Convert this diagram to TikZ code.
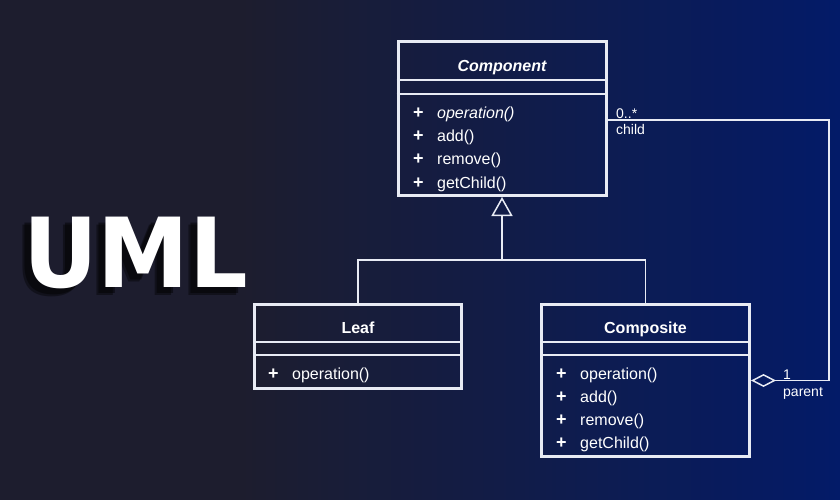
\documentclass[tikz,border=0pt]{standalone}
\usepackage{fontspec}
\setmainfont{Liberation Sans}
\newfontfamily\umlfont{DejaVu Sans}
\usetikzlibrary{arrows.meta}
\definecolor{bgdark}{RGB}{29,29,46}
\definecolor{bgblue}{RGB}{3,27,104}
\definecolor{ln}{RGB}{232,235,244}
\begin{document}
\begin{tikzpicture}[x=1pt,y=-1pt,
  classbox/.style={draw=ln, line width=3pt, inner sep=0pt, rectangle},
  sepline/.style={draw=ln, line width=2pt},
  conn/.style={draw=ln, line width=1.5pt},
  txt/.style={text=white, inner sep=0pt, font=\fontsize{16}{19}\selectfont},
  ttl/.style={text=white, inner sep=0pt, anchor=mid, font=\fontsize{16}{19}\selectfont\bfseries},
  op/.style={txt, anchor=mid west},
  plus/.style={text=white, inner sep=0pt, anchor=mid west, font=\fontsize{18}{19}\selectfont\bfseries},
  lbl/.style={text=white, inner sep=0pt, anchor=mid west, font=\fontsize{14}{16}\selectfont},
  bigtxt/.style={inner sep=0pt, anchor=base west, yscale=1.05, transform shape, font=\umlfont\bfseries\fontsize{92}{92}\selectfont}]
% background
\fill[bgdark] (0,0) rectangle (840,500);
\shade[left color=bgdark, right color=bgblue] (240,0) rectangle (840,500);
\useasboundingbox (0,0) rectangle (840,500);
% UML title with soft shadow
\node[bigtxt, text=black, opacity=0.4] (sh1) at (14,295) {UML};
\node[bigtxt, text=black, opacity=0.45] (sh2) at (16,293) {UML};
\node[bigtxt, text=white] (umltitle) at (23,287) {UML};
% connector helper points
\coordinate (jn) at (502,260);
\coordinate (rc) at (829,120);
% classes
\node[classbox, minimum width=208pt, minimum height=154pt] (comp) at (502,118.5) {};
\node[classbox, minimum width=207pt, minimum height=84pt] (leaf) at (358,346.5) {};
\node[classbox, minimum width=208pt, minimum height=152pt] (compo) at (645.5,380.5) {};
% generalization
\draw[conn] (leaf.north) |- (jn) -| (compo.north);
\draw[conn, -{Triangle[open, length=19pt, width=21pt]}] (jn) -- (comp.south);
% association / aggregation
\draw[conn, {Diamond[open, length=25pt, width=13pt]}-] (compo.east) -| (rc) -- (comp.east |- rc);
% separators
\draw[sepline] (comp.west |- 0,80) -- (comp.east |- 0,80);
\draw[sepline] (comp.west |- 0,94) -- (comp.east |- 0,94);
\draw[sepline] (leaf.west |- 0,342) -- (leaf.east |- 0,342);
\draw[sepline] (leaf.west |- 0,355) -- (leaf.east |- 0,355);
\draw[sepline] (compo.west |- 0,342) -- (compo.east |- 0,342);
\draw[sepline] (compo.west |- 0,355) -- (compo.east |- 0,355);
% Component text
\node[ttl, font=\fontsize{16}{19}\selectfont\bfseries\itshape] (compT) at (502,68.5) {Component};
\node[plus] (cp1) at (413,115.5) {+};
\node[op] (co1) at (437,115.5) {\itshape operation()};
\node[plus] (cp2) at (413,138.5) {+};
\node[op] (co2) at (437,138.5) {add()};
\node[plus] (cp3) at (413,161.5) {+};
\node[op] (co3) at (437,161.5) {remove()};
\node[plus] (cp4) at (413,185.5) {+};
\node[op] (co4) at (437,185.5) {getChild()};
% Leaf text
\node[ttl] (leafT) at (358,330.5) {Leaf};
\node[plus] (lp1) at (268,376.5) {+};
\node[op] (lo1) at (292,376.5) {operation()};
% Composite text
\node[ttl] (compoT) at (645.5,330.5) {Composite};
\node[plus] (mp1) at (556,376.5) {+};
\node[op] (mo1) at (580,376.5) {operation()};
\node[plus] (mp2) at (556,399.5) {+};
\node[op] (mo2) at (580,399.5) {add()};
\node[plus] (mp3) at (556,422.5) {+};
\node[op] (mo3) at (580,422.5) {remove()};
\node[plus] (mp4) at (556,445.5) {+};
\node[op] (mo4) at (580,445.5) {getChild()};
% multiplicity labels
\node[lbl] (mult1) at (616,115.5) {0..*};
\node[lbl] (role1) at (616,131.5) {child};
\node[lbl] (mult2) at (783,376.5) {1};
\node[lbl] (role2) at (783,393.5) {parent};
\end{tikzpicture}
\end{document}
